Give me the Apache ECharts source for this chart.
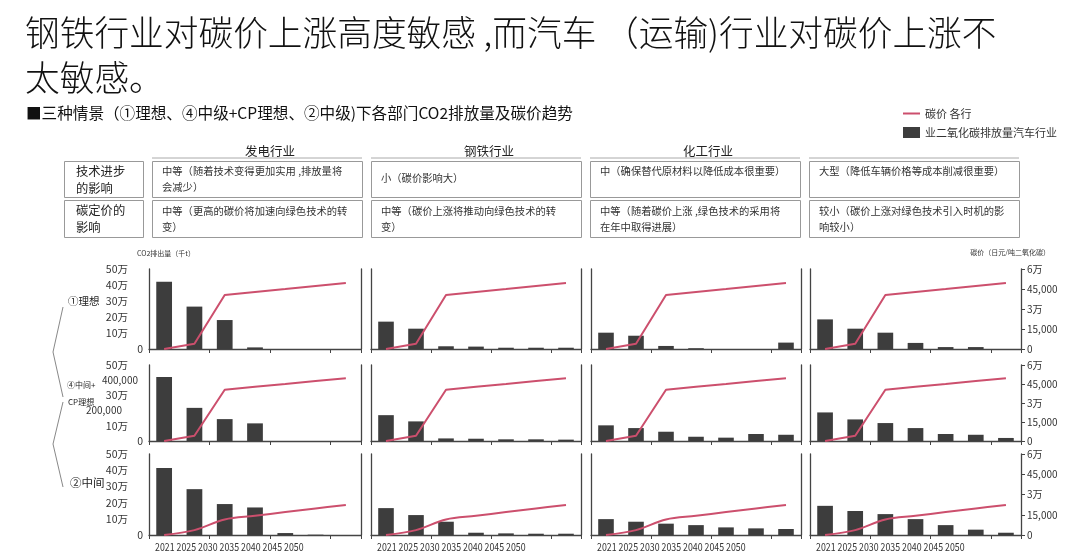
<!DOCTYPE html>
<html><head><meta charset="utf-8">
<script src="https://cdn.jsdelivr.net/npm/echarts@6/dist/echarts.min.js"></script>
<style>html,body{margin:0;padding:0;background:#fff}#c{width:1080px;height:558px}</style>
</head><body><div id="c"></div>
<script>
// ---------- data ----------
const years = ['2021','2025','2030','2035','2040','2045','2050'];
const sectors = ['发电行业','钢铁行业','化工行业',''];
const scenarioLabels = ['①理想','④中间+','CP理想','②中间'];
const leftTicks = ['0','10万','20万','30万','40万','50万'];
const leftTicksRow2 = ['0','10万','200,000','30万','400,000','50万'];
const rightTicks = ['0','15,000','3万','45,000','6万'];
const rowHeads = ['技术进步\n的影响','碳定价的\n影响'];
const techTexts = ['中等（随着技术变得更加实用 ,排放量将\n会减少）','小（碳价影响大）','中（确保替代原材料以降低成本很重要）','大型（降低车辆价格等成本削减很重要）'];
const priceTexts = ['中等（更高的碳价将加速向绿色技术的转\n变）','中等（碳价上涨将推动向绿色技术的转\n变）','中等（随着碳价上涨 ,绿色技术的采用将\n在年中取得进展）','较小（碳价上涨对绿色技术引入时机的影\n响较小）'];
const titleText = '钢铁行业对碳价上涨高度敏感 ,而汽车 （运输)行业对碳价上涨不\n太敏感。';
const subTitleText = '■三种情景（①理想、④中级+CP理想、②中级)下各部门CO2排放量及碳价趋势';
const lineName = '碳价 各行';
const barName = '业二氧化碳排放量汽车行业';
const leftUnit = 'CO2排出量（千t）';
const rightUnit = '碳价（日元/吨二氧化碳）';

// emissions
const emPower1 = [421000,265000,181000,10000,0,0,0];
const emSteel1 = [171000,127000,17000,15000,8000,8000,8000];
const emChem1  = [102000,83000,19000,5000,0,0,40000];
const emAuto1  = [185000,127000,102000,38000,12000,12000,0];
const emPower2 = [421000,218000,144000,116000,0,0,0];
const emSteel2 = [170000,129000,17000,15000,11000,11000,9000];
const emChem2  = [103000,85000,61000,28000,22000,46000,41000];
const emAuto2  = [188000,142000,118000,85000,46000,41000,20000];
const emPower3 = [414000,283000,191000,170000,12000,2000,0];
const emSteel3 = [166000,123000,82000,14000,10000,8000,8000];
const emChem3  = [98000,82000,70000,61000,47000,41000,37000];
const emAuto3  = [180000,148000,129000,98000,61000,33000,14000];
// carbon price
const price1 = [0,4000,40500,42800,45000,47300,49500];
const price2 = [0,4200,40500,42800,45000,47300,49500];
const price3 = [0,3600,11500,14200,17000,19700,22300];

const emissions = [[emPower1,emSteel1,emChem1,emAuto1],[emPower2,emSteel2,emChem2,emAuto2],[emPower3,emSteel3,emChem3,emAuto3]];
const prices = [price1,price2,price3];

// ---------- layout ----------
const FONT = "'Noto Sans CJK SC','Noto Sans',sans-serif";
const cols = [[149,361],[371,581],[591,801],[810,1021]];
const rows = [[269,349],[365,441],[454,535]];
const AX = '#444';
const LINEC = '#cc4f6d';
const BARC = '#3d3d3d';

const grids=[], xAxes=[], yAxes=[], series=[];
let gi = 0;
rows.forEach((r, ri) => {
  cols.forEach((c, ci) => {
    grids.push({left:c[0], width:c[1]-c[0], top:r[0], height:r[1]-r[0]});
    xAxes.push({gridIndex:gi, type:'category', data:years, boundaryGap:true,
      axisLine:{show:true, lineStyle:{color:AX, width:1.3}},
      axisTick:{show:true, length:4, lineStyle:{color:AX}},
      axisLabel:{show:false}, splitLine:{show:false}});
    const lt = ri === 1 ? leftTicksRow2 : leftTicks;
    yAxes.push({gridIndex:gi, type:'value', position:'left', min:0, max:500000, interval:100000,
      axisLine:{show:true, lineStyle:{color:AX, width:1.3}},
      axisTick:{show:false}, splitLine:{show:false},
      axisLabel:{show: ci===0, margin:6, fontSize:10.5, color:'#333', fontFamily:FONT,
        formatter:(v)=>{ const t = lt[Math.round(v/100000)];
          if (t==='0') return t;
          if (t==='400,000') return '{b|'+t+'}';
          if (t==='200,000') return '{c|'+t+'}';
          return '{a|'+t+'}'; },
        rich:{a:{fontSize:10.5, color:'#333', fontFamily:FONT, padding:[0,15,0,0]},
              b:{fontSize:10, color:'#333', fontFamily:FONT, padding:[0,5,0,0]},
              c:{fontSize:10, color:'#333', fontFamily:FONT, padding:[0,21,0,0]}}}});
    yAxes.push({gridIndex:gi, type:'value', position:'right', min:0, max:60000, interval:15000,
      axisLine:{show:true, lineStyle:{color:AX, width:1.3}},
      axisTick:{show: ci===3, length:4, lineStyle:{color:AX}}, splitLine:{show:false},
      axisLabel:{show: ci===3, margin:6, fontSize:10, color:'#333', fontFamily:FONT,
        formatter:(v)=>rightTicks[Math.round(v/15000)]}});
    series.push({type:'bar', name:barName, xAxisIndex:gi, yAxisIndex:gi*2, data:emissions[ri][ci],
      barWidth:'52%', itemStyle:{color:BARC}, z:2});
    series.push({type:'line', name:lineName, xAxisIndex:gi, yAxisIndex:gi*2+1, data:prices[ri],
      smooth: ri===2 ? 0.35 : false, symbol:'none', lineStyle:{color:LINEC, width:2}, itemStyle:{color:LINEC}, z:3});
    gi++;
  });
});

// ---------- graphics (table, labels) ----------
const g = [];
const txt = (x,y,text,size,opt={}) => g.push(Object.assign({type:'text', x, y,
  style:{text, font: size+'px '+FONT, fill: opt.fill||'#222', textAlign: opt.align||'left',
    textVerticalAlign: opt.va||'middle', lineHeight: opt.lh||size*1.3}}, opt.extra||{}));
const boxCols = [[152,362],[371,581],[590,800],[809,1019]];
const boxRows = [[161,197],[200,237]];
boxCols.forEach((bc, i) => {
  if (sectors[i]) txt((bc[0]+bc[1])/2-12, 151, sectors[i], 12.5);
  g.push({type:'line', shape:{x1:bc[0], y1:158, x2:bc[1], y2:158}, style:{stroke:'#aaa', lineWidth:1}});
  boxRows.forEach((br, j) => {
    g.push({type:'rect', shape:{x:bc[0]+0.5, y:br[0]+0.5, width:bc[1]-bc[0], height:br[1]-br[0]},
      style:{fill:'none', stroke:'#999', lineWidth:1}});
  });
  const t1 = techTexts[i];
  const y1 = t1.indexOf('\n')<0 && i===1 ? 170 : 163;
  txt(bc[0]+10, y1, t1, 10.3, {va:'top', lh:16, fill:'#333'});
  txt(bc[0]+10, 203, priceTexts[i], 10.3, {va:'top', lh:16, fill:'#333'});
});
boxRows.forEach((br, j) => {
  g.push({type:'rect', shape:{x:64.5, y:br[0]+0.5, width:79, height:br[1]-br[0]},
    style:{fill:'none', stroke:'#999', lineWidth:1}});
  txt(76, br[0]+2, rowHeads[j], 12.3, {va:'top', lh:17, fill:'#222'});
});
txt(137, 253, leftUnit, 7, {fill:'#333'});
txt(1050, 252, rightUnit, 7, {fill:'#333', align:'right'});
// scenario labels + bracket
txt(68, 301, scenarioLabels[0], 10.5);
txt(67, 385, scenarioLabels[1], 8);
txt(68, 402, scenarioLabels[2], 8);
txt(70, 483, scenarioLabels[3], 11.5);
g.push({type:'polyline', shape:{points:[[63,307],[53,352],[63,397]]}, style:{stroke:'#888', lineWidth:1, fill:null}});
g.push({type:'polyline', shape:{points:[[63,402],[53,444],[63,487]]}, style:{stroke:'#888', lineWidth:1, fill:null}});
// bottom year labels
cols.forEach((c) => {
  g.push({type:'text', x:c[0]+6, y:547, scaleX:0.8,
    style:{text: years.join(' '), font:'11px '+FONT, fill:'#333', textAlign:'left', textVerticalAlign:'middle'}});
});

const option = {
  animation:false,
  backgroundColor:'#fff',
  title:[
    {text:titleText, left:20, top:5, textStyle:{fontSize:34.7, fontWeight:300, color:'#111', fontFamily:FONT, lineHeight:45}},
    {text:subTitleText, left:21, top:98, textStyle:{fontSize:15.6, fontWeight:'normal', color:'#111', fontFamily:FONT, lineHeight:20}}
  ],
  legend:{orient:'vertical', left:898, top:103, itemWidth:17, itemHeight:11, itemGap:8, selectedMode:false,
    textStyle:{fontSize:11, color:'#333', fontFamily:FONT},
    data:[{name:lineName, icon:'path://M0,0L17,0L17,2L0,2Z', itemStyle:{color:LINEC}},{name:barName, icon:'rect'}]},
  grid:grids, xAxis:xAxes, yAxis:yAxes, series:series,
  graphic:{elements:g}
};
const chart = echarts.init(document.getElementById('c'), null, {renderer:'canvas'});
chart.setOption(option);
</script></body></html>
